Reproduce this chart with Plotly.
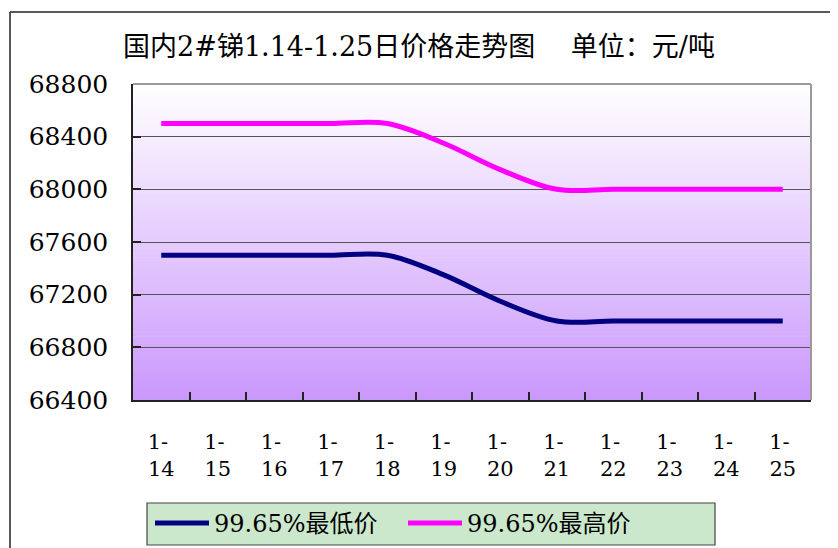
import plotly.graph_objects as go

# ---- data ----
dates = ["1-14", "1-15", "1-16", "1-17", "1-18", "1-19",
         "1-20", "1-21", "1-22", "1-23", "1-24", "1-25"]
tick_labels = ["1-\u00a0<br>14", "1-\u00a0<br>15", "1-\u00a0<br>16", "1-\u00a0<br>17",
               "1-\u00a0<br>18", "1-\u00a0<br>19", "1-\u00a0<br>20", "1-\u00a0<br>21",
               "1-\u00a0<br>22", "1-\u00a0<br>23", "1-\u00a0<br>24", "1-\u00a0<br>25"]
low_price = [67500, 67500, 67500, 67500, 67500, 67350,
             67150, 67000, 67000, 67000, 67000, 67000]
high_price = [68500, 68500, 68500, 68500, 68500, 68350,
              68150, 68000, 68000, 68000, 68000, 68000]
low_name = "99.65%最低价"
high_name = "99.65%最高价"
title_text = "国内2#锑1.14-1.25日价格走势图　 单位：元/吨"

# page body has an 8px margin; figure is offset by that amount
OFF = 8
W, H = 838 - OFF, 548 - OFF
# plot area in reference-page pixels
RL, RR, RT, RB = 133, 811, 84, 400
L, R, T, B = RL - OFF, RR - OFF, RT - OFF, RB - OFF

def px_x(p):  # reference page pixel -> paper x
    return (p - OFF - L) / (R - L)

def px_y(p):  # reference page pixel -> paper y
    return (B - (p - OFF)) / (B - T)

fig = go.Figure()
fig.add_trace(go.Scatter(x=dates, y=low_price, name=low_name, mode="lines",
                         line=dict(color="#000080", width=5, shape="spline", smoothing=1.0)))
fig.add_trace(go.Scatter(x=dates, y=high_price, name=high_name, mode="lines",
                         line=dict(color="#FF00FF", width=5, shape="spline", smoothing=1.0)))

shapes = []
# gradient background of plot area
n = 80
top_c = (255, 255, 255)
bot_c = (202, 152, 252)
for i in range(n):
    f = (i + 0.5) / n  # 0 bottom -> 1 top
    c = tuple(round(bot_c[k] + (top_c[k] - bot_c[k]) * f) for k in range(3))
    shapes.append(dict(type="rect", xref="x domain", yref="y domain",
                       x0=0, x1=1, y0=i / n, y1=(i + 1) / n + 0.002,
                       fillcolor="rgb(%d,%d,%d)" % c, line=dict(width=0), layer="below"))
# plot area border (top/right gray)
shapes.append(dict(type="line", xref="x domain", yref="y domain", x0=0, x1=1, y0=1, y1=1,
                   line=dict(color="#9a9a9a", width=2), layer="above"))
shapes.append(dict(type="line", xref="x domain", yref="y domain", x0=1, x1=1, y0=0, y1=1,
                   line=dict(color="#9a9a9a", width=2), layer="above"))
# chart outer frame (top and left edges visible)
shapes.append(dict(type="line", xref="paper", yref="paper", x0=px_x(10), x1=px_x(850),
                   y0=px_y(12), y1=px_y(12), line=dict(color="#222", width=1.5)))
shapes.append(dict(type="line", xref="paper", yref="paper", x0=px_x(10), x1=px_x(10),
                   y0=px_y(12), y1=px_y(570), line=dict(color="#222", width=1.5)))
# legend box
shapes.append(dict(type="rect", xref="paper", yref="paper", x0=px_x(147), x1=px_x(715),
                   y0=px_y(503), y1=px_y(545), fillcolor="#CCE8CC",
                   line=dict(color="#444", width=1.2)))

fig.update_layout(
    width=W, height=H,
    margin=dict(l=L, r=W - R, t=T, b=H - B, autoexpand=False),
    paper_bgcolor="white",
    plot_bgcolor="rgba(0,0,0,0)",
    shapes=shapes,
    title=dict(text=title_text, x=px_x(419), xref="paper", xanchor="center",
               y=1 - 39 / H, yanchor="middle",
               font=dict(family="DejaVu Serif, Noto Sans CJK SC", size=27, color="black")),
    showlegend=True,
    legend=dict(orientation="h", x=px_x(150), xanchor="left", y=px_y(501), yanchor="top",
                bgcolor="rgba(0,0,0,0)", borderwidth=0,
                font=dict(family="DejaVu Serif, Noto Sans CJK SC", size=24, color="black"),
                entrywidth=184, entrywidthmode="pixels", itemwidth=54),
)
fig.update_xaxes(
    type="category", range=[-0.5, 11.5], automargin=False,
    tickmode="array", tickvals=dates, ticktext=tick_labels,
    tickson="boundaries", ticks="inside", ticklen=8, tickcolor="#222", tickwidth=1.5,
    showline=True, linecolor="#222", linewidth=1.5,
    showgrid=False, ticklabelstandoff=22,
    tickfont=dict(family="DejaVu Serif", size=21, color="black"),
)
fig.update_yaxes(
    range=[66400, 68800], dtick=400, tick0=66400, automargin=False,
    ticks="inside", ticklen=8, tickcolor="#222", tickwidth=1.5,
    showline=True, linecolor="#222", linewidth=1.5,
    showgrid=True, gridcolor="#555555", gridwidth=1,
    zeroline=False, ticklabelstandoff=18, tickformat="d",
    tickfont=dict(family="DejaVu Serif", size=25, color="black"),
)

fig.write_html("out.html")
